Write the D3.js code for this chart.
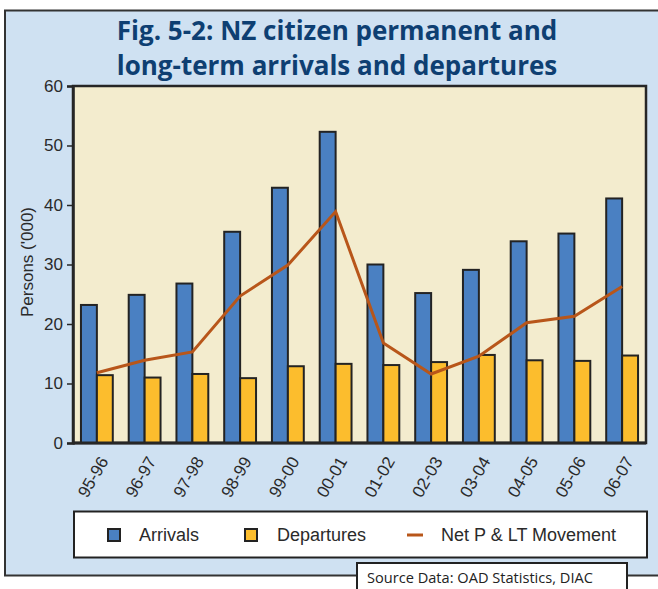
<!DOCTYPE html>
<html>
<head>
<meta charset="utf-8">
<script src="https://cdn.jsdelivr.net/npm/d3@7"></script>
<style>
  body { margin: 0; background: #fff; }
  svg { display: block; }
</style>
</head>
<body>
<svg id="chart" width="658" height="589"></svg>
<script>
// data ('000 persons)
var years = ["95-96","96-97","97-98","98-99","99-00","00-01","01-02","02-03","03-04","04-05","05-06","06-07"];
var arrivals = [23.2, 24.9, 26.8, 35.5, 42.9, 52.3, 30.0, 25.2, 29.1, 33.9, 35.2, 41.1];
var departures = [11.4, 11.0, 11.6, 10.9, 12.9, 13.3, 13.1, 13.6, 14.8, 13.9, 13.8, 14.7];
var netMovement = [11.8, 13.9, 15.3, 24.7, 29.9, 38.9, 16.8, 11.6, 14.6, 20.2, 21.3, 26.3];
var yTicks = [0, 10, 20, 30, 40, 50, 60];

var blue = "#4a80c2", yellow = "#fcbd2d", rust = "#b8561a";

var svg = d3.select("#chart");

// outer panel
svg.append("rect")
  .attr("x", 5).attr("y", 10.5).attr("width", 660).attr("height", 565)
  .attr("fill", "#cfe1f2").attr("stroke", "#333").attr("stroke-width", 2);

// title
var title = svg.append("text")
  .attr("text-anchor", "middle")
  .attr("font-family", "'Open Sans', sans-serif")
  .attr("font-weight", 700)
  .attr("font-size", 26)
  .attr("fill", "#0e3f72");
title.append("tspan").attr("x", 337).attr("y", 40).text("Fig. 5-2: NZ citizen permanent and");
title.append("tspan").attr("x", 337).attr("y", 75).text("long-term arrivals and departures");

var plotL = 73, plotR = 646, plotT = 86, plotB = 443;

var x = d3.scaleBand().domain(years).range([plotL, plotR]);
var y = d3.scaleLinear().domain([0, 60]).range([plotB, plotT]);
var barW = x.bandwidth() / 3;

// plot background
svg.append("rect")
  .attr("x", plotL).attr("y", plotT).attr("width", plotR - plotL).attr("height", plotB - plotT)
  .attr("fill", "#f3ecce").attr("stroke", "#262626").attr("stroke-width", 2.5);

// bars
var g = svg.append("g");
g.selectAll("rect.arr").data(arrivals).enter().append("rect")
  .attr("class", "arr")
  .attr("x", function(d, i){ return x(years[i]) + x.bandwidth()/2 - barW; })
  .attr("y", function(d){ return y(d); })
  .attr("width", barW)
  .attr("height", function(d){ return y(0) - y(d); })
  .attr("fill", blue).attr("stroke", "#232323").attr("stroke-width", 2);

g.selectAll("rect.dep").data(departures).enter().append("rect")
  .attr("class", "dep")
  .attr("x", function(d, i){ return x(years[i]) + x.bandwidth()/2; })
  .attr("y", function(d){ return y(d); })
  .attr("width", barW)
  .attr("height", function(d){ return y(0) - y(d); })
  .attr("fill", yellow).attr("stroke", "#232323").attr("stroke-width", 2);

// net movement line
var line = d3.line()
  .x(function(d, i){ return x(years[i]) + x.bandwidth()/2; })
  .y(function(d){ return y(d); });
svg.append("path").datum(netMovement)
  .attr("d", line)
  .attr("fill", "none").attr("stroke", rust).attr("stroke-width", 3);

// bottom axis line on top
svg.append("line")
  .attr("x1", plotL).attr("x2", plotR).attr("y1", plotB).attr("y2", plotB)
  .attr("stroke", "#262626").attr("stroke-width", 3);

// y axis
var yAxis = svg.append("g")
  .attr("transform", "translate(" + plotL + ",0)")
  .call(d3.axisLeft(y).tickValues(yTicks).tickSize(6).tickPadding(4));
yAxis.select(".domain").attr("stroke", "#262626").attr("stroke-width", 2.5);
yAxis.selectAll(".tick line").attr("stroke", "#262626").attr("stroke-width", 1.5);
yAxis.selectAll(".tick text")
  .attr("font-family", "'Liberation Sans', Arial, sans-serif")
  .attr("font-size", 17).attr("fill", "#2a2a2a");

svg.append("text")
  .attr("transform", "translate(33,262) rotate(-90)")
  .attr("text-anchor", "middle")
  .attr("font-family", "'Liberation Sans', Arial, sans-serif")
  .attr("font-size", 17).attr("fill", "#2a2a2a")
  .text("Persons ('000)");

// x labels
svg.append("g").selectAll("text").data(years).enter().append("text")
  .attr("transform", function(d){
    return "translate(" + (x(d) + x.bandwidth()/2 + 12) + ",461) rotate(-60)";
  })
  .attr("text-anchor", "end")
  .attr("font-family", "'Liberation Sans', Arial, sans-serif")
  .attr("font-size", 17).attr("fill", "#2a2a2a")
  .text(function(d){ return d; });

// legend
svg.append("rect")
  .attr("x", 74).attr("y", 511.5).attr("width", 573).attr("height", 46)
  .attr("fill", "#fff").attr("stroke", "#222").attr("stroke-width", 2);

var legendItems = [
  { label: "Arrivals", type: "box", color: blue, x: 108, tx: 139 },
  { label: "Departures", type: "box", color: yellow, x: 245, tx: 277 },
  { label: "Net P & LT Movement", type: "line", color: rust, x: 407, tx: 441 }
];
var leg = svg.append("g").selectAll("g").data(legendItems).enter().append("g");
leg.filter(function(d){ return d.type === "box"; }).append("rect")
  .attr("x", function(d){ return d.x; }).attr("y", 529)
  .attr("width", 12).attr("height", 12)
  .attr("fill", function(d){ return d.color; })
  .attr("stroke", "#222").attr("stroke-width", 2);
leg.filter(function(d){ return d.type === "line"; }).append("line")
  .attr("x1", function(d){ return d.x; }).attr("x2", function(d){ return d.x + 16; })
  .attr("y1", 535).attr("y2", 535)
  .attr("stroke", function(d){ return d.color; }).attr("stroke-width", 3);
leg.append("text")
  .attr("x", function(d){ return d.tx; }).attr("y", 541)
  .attr("font-family", "'Liberation Sans', Arial, sans-serif")
  .attr("font-size", 18).attr("fill", "#2a2a2a")
  .text(function(d){ return d.label; });

// source box
svg.append("rect")
  .attr("x", 357).attr("y", 563).attr("width", 270).attr("height", 40)
  .attr("fill", "#fff").attr("stroke", "#222").attr("stroke-width", 2);
svg.append("text")
  .attr("x", 367).attr("y", 583)
  .attr("font-family", "'Open Sans', sans-serif")
  .attr("font-size", 14.6).attr("fill", "#222")
  .text("Source Data: OAD Statistics, DIAC");
</script>
</body>
</html>
